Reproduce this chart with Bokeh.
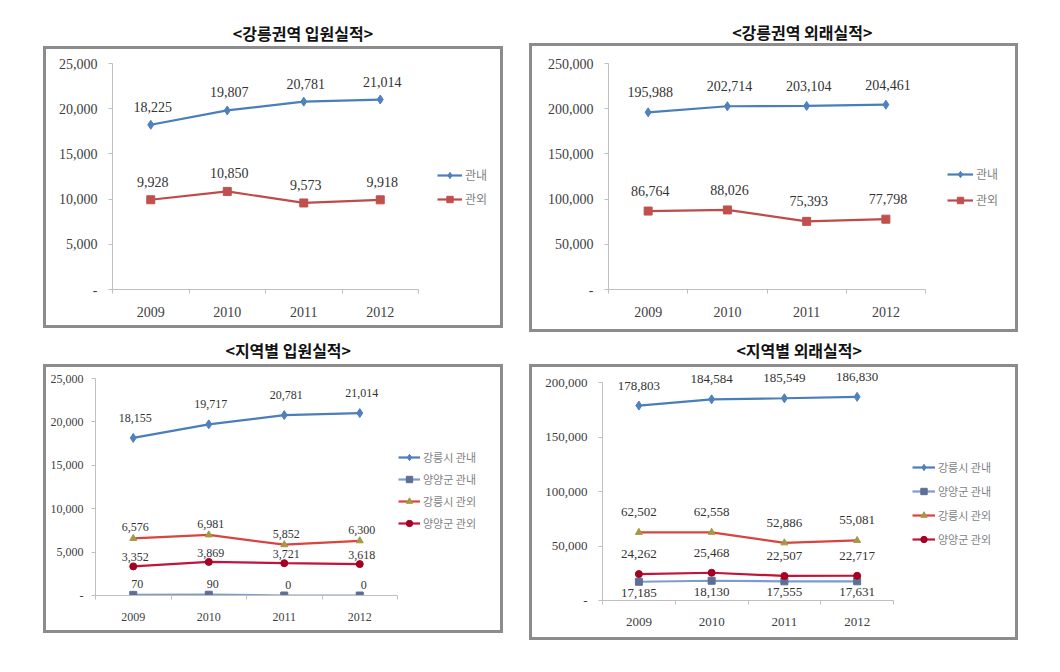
from bokeh.plotting import figure
from bokeh.models import Range1d, FixedTicker, Legend, LegendItem, Label, Spacer
from bokeh.layouts import column, row
from bokeh.embed import file_html
from bokeh.resources import INLINE
from bokeh.core.properties import value

# ---------------- data ----------------
years = ["2009", "2010", "2011", "2012"]

title_area_in = "<강릉권역 입원실적>"
title_area_out = "<강릉권역 외래실적>"
title_region_in = "<지역별 입원실적>"
title_region_out = "<지역별 외래실적>"

area_series = ["관내", "관외"]
area_in_gwannae = [18225, 19807, 20781, 21014]
area_in_gwanoe = [9928, 10850, 9573, 9918]
area_out_gwannae = [195988, 202714, 203104, 204461]
area_out_gwanoe = [86764, 88026, 75393, 77798]

region_series = ["강릉시 관내", "양양군 관내", "강릉시 관외", "양양군 관외"]
region_in_gn_in = [18155, 19717, 20781, 21014]
region_in_yy_in = [70, 90, 0, 0]
region_in_gn_out = [6576, 6981, 5852, 6300]
region_in_yy_out = [3352, 3869, 3721, 3618]
region_out_gn_in = [178803, 184584, 185549, 186830]
region_out_yy_in = [17185, 18130, 17555, 17631]
region_out_gn_out = [62502, 62558, 52886, 55081]
region_out_yy_out = [24262, 25468, 22507, 22717]

ticks_area_in = [0, 5000, 10000, 15000, 20000, 25000]
ticks_area_out = [0, 50000, 100000, 150000, 200000, 250000]
ticks_region_in = [0, 5000, 10000, 15000, 20000, 25000]
ticks_region_out = [0, 50000, 100000, 150000, 200000]

# ---------------- styles ----------------
NUM_FONT = "Liberation Serif"
KR_FONT = "Noto Sans CJK KR"
BOX_CSS = {"box-shadow": "inset 0 0 0 3px #8C8C8C"}

STYLE_BLUE = dict(line="#4A7EBB", marker="diamond", fill="#4F81BD", size=9)
STYLE_RED = dict(line="#BE4B48", marker="square", fill="#C0504D", size=8)
STYLE_SLATE = dict(line="#7C9BD0", marker="square", fill="#5C6F96", size=7)
STYLE_RED2 = dict(line="#D9443F", marker="triangle", fill="#A39A45", size=7)
STYLE_DARKRED = dict(line="#C0143C", marker="circle", fill="#A50021", size=7)


def make_title(text, W, H, cx, cy):
    t = figure(width=W, height=H, output_backend="svg", toolbar_location=None,
               x_range=Range1d(0, W), y_range=Range1d(H, 0),
               x_axis_type=None, y_axis_type=None,
               min_border_left=0, min_border_right=0, min_border_top=0, min_border_bottom=0)
    t.outline_line_color = None
    t.background_fill_color = "white"
    t.border_fill_color = "white"
    t.add_layout(Label(x=cx, y=cy, text=text, text_align="center", text_baseline="middle",
                       text_font=KR_FONT, text_font_size="16px",
                       text_font_style="bold", text_color="#111111"))
    return t


def make_chart(names, series, yticks, geom, sstyles, label_dy, label_dx,
               font_px, ystand, legend_cfg):
    W, H, fl, fr, ft, at, fb, ax = geom
    n = len(years)
    x_end = -0.5 + n * (fr - fl) / ax
    y_end = yticks[-1] * (fb - ft) / (fb - at)
    p = figure(width=W, height=H, output_backend="svg", toolbar_location=None,
               x_range=Range1d(-0.5, x_end), y_range=Range1d(0, y_end),
               min_border_left=fl, min_border_right=W - fr,
               min_border_top=ft, min_border_bottom=H - fb, styles=BOX_CSS)
    p.outline_line_color = None
    p.xgrid.visible = False
    p.ygrid.visible = False
    p.background_fill_alpha = 0
    p.border_fill_alpha = 0

    xs = list(range(n))
    fs = f"{font_px}px"

    xa = p.xaxis[0]
    xa.ticker = FixedTicker(ticks=xs, minor_ticks=[i - 0.5 for i in range(n + 1)])
    xa.major_label_overrides = {i: years[i] for i in xs}
    xa.bounds = (-0.5, n - 0.5)
    xa.axis_line_color = "#BFBFBF"
    xa.major_tick_line_color = None
    xa.major_tick_out = 0
    xa.major_tick_in = 0
    xa.minor_tick_line_color = "#BFBFBF"
    xa.minor_tick_out = 4
    xa.minor_tick_in = 0
    xa.major_label_standoff = 13
    xa.major_label_text_font = NUM_FONT
    xa.major_label_text_font_size = fs
    xa.major_label_text_color = "#404040"

    ya = p.yaxis[0]
    ya.ticker = FixedTicker(ticks=yticks, minor_ticks=[])
    ya.major_label_overrides = {v: ("-" if v == 0 else f"{v:,}") for v in yticks}
    ya.bounds = (0, yticks[-1])
    ya.axis_line_color = "#BFBFBF"
    ya.major_tick_line_color = "#BFBFBF"
    ya.major_tick_out = 4
    ya.major_tick_in = 0
    ya.minor_tick_line_color = None
    ya.major_label_standoff = ystand
    ya.major_label_text_font = NUM_FONT
    ya.major_label_text_font_size = fs
    ya.major_label_text_color = "#404040"

    items = []
    for name, vals, st, dy, dx in zip(names, series, sstyles, label_dy, label_dx):
        lr = p.line(xs, vals, line_color=st["line"], line_width=2.2)
        sr = p.scatter(xs, vals, marker=st["marker"], size=st["size"],
                       fill_color=st["fill"], line_color=st["fill"])
        p.text(xs, vals, text=[f"{v:,}" for v in vals], x_offset=dx, y_offset=dy,
               text_align="center", text_baseline="middle",
               text_font=value(NUM_FONT), text_font_size=fs, text_color="#333333")
        items.append(LegendItem(label=name, renderers=[lr, sr]))

    lx, ly, gw, gh, sp, lfs = legend_cfg
    leg = Legend(items=items, location=(lx, ly), orientation="vertical",
                 glyph_width=gw, glyph_height=gh, spacing=sp, label_standoff=3,
                 padding=0, margin=0, border_line_color=None, background_fill_alpha=0,
                 label_text_font=KR_FONT, label_text_font_size=lfs,
                 label_text_color="#7F7F7F", label_height=gh)
    p.add_layout(leg)
    return p


t1 = make_title(title_area_in, 460, 46, 227, 32)
c1 = make_chart(area_series, [area_in_gwannae, area_in_gwanoe], ticks_area_in,
                (460, 282, 69, 455, 4, 17, 243, 306),
                [STYLE_BLUE, STYLE_RED], [-18, -18], [2, 2], 14, 11,
                (325, 82, 25, 16, 7, "12px"))

t2 = make_title(title_area_out, 489, 43, 234, 31)
c2 = make_chart(area_series, [area_out_gwannae, area_out_gwanoe], ticks_area_out,
                (489, 289, 79, 484, 4, 20, 246, 317),
                [STYLE_BLUE, STYLE_RED], [-20, -20], [2, 2], 14, 11,
                (339, 81, 26, 16, 9, "12px"))

t3 = make_title(title_region_in, 460, 32, 220, 17)
c3 = make_chart(region_series,
                [region_in_gn_in, region_in_yy_in, region_in_gn_out, region_in_yy_out],
                ticks_region_in,
                (460, 269, 52, 455, 4, 14, 231, 302),
                [STYLE_BLUE, STYLE_SLATE, STYLE_RED2, STYLE_DARKRED],
                [-20, -11, -11, -9], [2, 4, 2, 2], 12, 8,
                (303, 64, 22, 16, 6, "11px"))

t4 = make_title(title_region_out, 489, 32, 234, 17)
c4 = make_chart(region_series,
                [region_out_gn_in, region_out_yy_in, region_out_gn_out, region_out_yy_out],
                ticks_region_out,
                (489, 276, 73, 484, 4, 18, 236, 291),
                [STYLE_BLUE, STYLE_SLATE, STYLE_RED2, STYLE_DARKRED],
                [-20, 11, -20, -20], [0, 0, 0, 0], 13, 11,
                (310, 53, 23, 16, 8, "11px"))

layout = column(
    row(Spacer(width=43, height=10), column(t1, c1), Spacer(width=26, height=10), column(t2, c2)),
    row(Spacer(width=43, height=10), column(t3, c3), Spacer(width=26, height=10), column(t4, c4)),
)
open("out.html", "w").write(file_html(layout, INLINE))
